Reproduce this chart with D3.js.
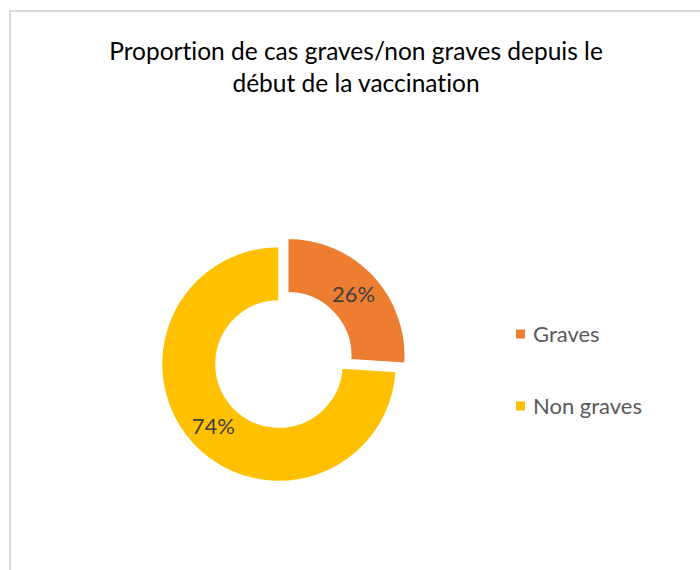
<!DOCTYPE html>
<html>
<head>
<meta charset="utf-8">
<script src="https://cdn.jsdelivr.net/npm/d3@7"></script>
<style>
  body { margin: 0; background: #fff; }
  svg { display: block; font-family: Lato, "Open Sans", sans-serif; font-variant-ligatures: none; }
</style>
</head>
<body>
<svg class="svg-donut"></svg>
<script>
// data
const categories = ["Graves", "Non graves"]
const values = [26, 74]
const colors = ["#ED7D31", "#FFC000"]
const titleLines = ["Proportion de cas graves/non graves depuis le", "début de la vaccination"]

const width = 700
const height = 570

var svg = d3.select('.svg-donut')
    .attr('width', width)
    .attr('height', height)

// chart frame (only top/left edges visible in the crop)
svg.append('rect')
    .attr('x', 10)
    .attr('y', 11)
    .attr('width', 720)
    .attr('height', 600)
    .attr('fill', '#fff')
    .attr('stroke', '#d9d9d9')
    .attr('stroke-width', 2)

// title
svg.append('text')
    .attr('y', 60)
    .attr('text-anchor', 'middle')
    .style('font-size', '24.5px')
    .attr('fill', '#000')
    .selectAll('tspan')
    .data(titleLines)
    .join('tspan')
    .attr('x', 356)
    .attr('dy', (d, i) => i == 0 ? 0 : 32)
    .text(d => d)

// donut
var cx = 279, cy = 364
var outerR = 117.5, innerR = 63
var explode = 12

var pie = d3.pie().sort(null).value(d => d)
var arcs = pie(values)
var total = d3.sum(values)

var arc = d3.arc().innerRadius(innerR).outerRadius(outerR)
var labelArc = d3.arc().innerRadius((innerR + outerR) / 2).outerRadius((innerR + outerR) / 2)

// only the first slice (Graves) is pulled out
var offset = (d, i) => {
    if (i != 0) return [0, 0]
    var a = (d.startAngle + d.endAngle) / 2
    return [explode * Math.sin(a), -explode * Math.cos(a)]
}

var g = svg.append('g')
    .attr('transform', 'translate(' + cx + ',' + cy + ')')

var slices = g.selectAll('.slice')
    .data(arcs)
    .join('g')
    .attr('class', 'slice')
    .attr('transform', (d, i) => 'translate(' + offset(d, i).join(',') + ')')

slices.append('path')
    .attr('d', arc)
    .attr('fill', (d, i) => colors[i])
    .attr('stroke', '#fff')
    .attr('stroke-width', 1.5)

slices.append('text')
    .attr('transform', d => 'translate(' + labelArc.centroid(d) + ')')
    .attr('text-anchor', 'middle')
    .attr('dy', '0.36em')
    .style('font-size', '22px')
    .attr('fill', '#404040')
    .text(d => Math.round(d.data / total * 100) + '%')

// legend
var legendY = d3.scalePoint()
    .domain(categories)
    .range([334, 406])

var legend = svg.selectAll('.legend')
    .data(categories)
    .join('g')
    .attr('class', 'legend')
    .attr('transform', d => 'translate(516,' + legendY(d) + ')')

legend.append('rect')
    .attr('x', 0)
    .attr('y', -4.5)
    .attr('width', 9)
    .attr('height', 9)
    .attr('fill', (d, i) => colors[i])

legend.append('text')
    .attr('x', 17)
    .attr('dy', '0.36em')
    .style('font-size', '22px')
    .attr('fill', '#595959')
    .text(d => d)
</script>
</body>
</html>
